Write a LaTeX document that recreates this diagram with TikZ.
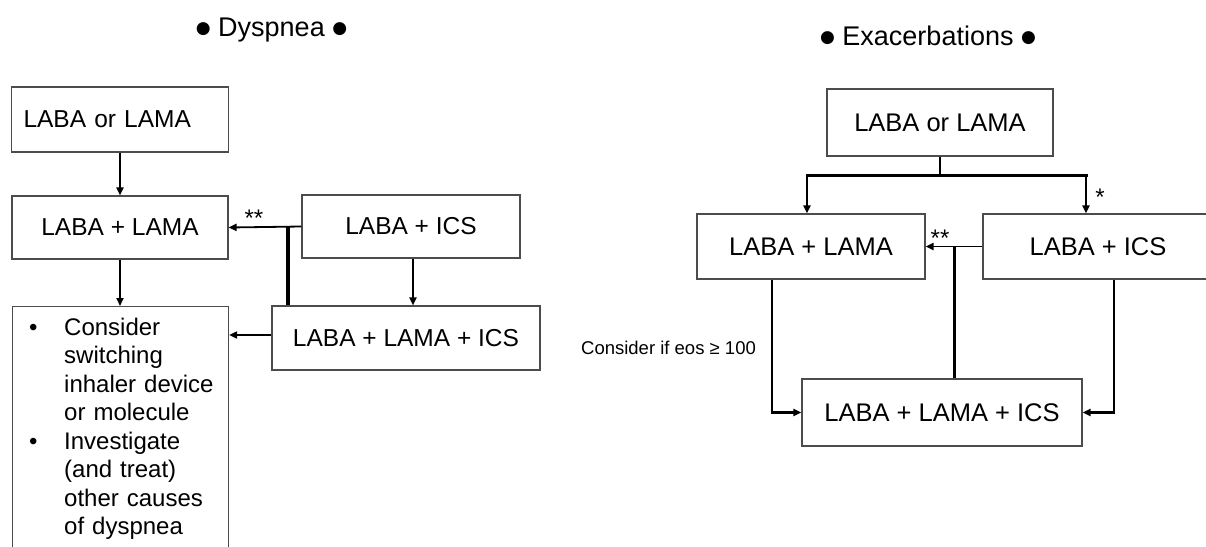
\documentclass[tikz,border=0pt]{standalone}
\usepackage{fontspec}
\setmainfont{Liberation Sans}
\newfontfamily\dvsans{DejaVu Sans}
\newcommand{\tbul}{\raisebox{3pt}{\dvsans\fontsize{17}{20}\selectfont ●}}
\usetikzlibrary{arrows.meta}
\begin{document}
\begin{tikzpicture}[x=1pt,y=-1pt,
  box/.style={draw=black!70, line width=1.1pt, rectangle, inner sep=0pt, font=\fontsize{24.5}{29}\selectfont},
  rbox/.style={box, font=\fontsize{25.5}{30}\selectfont},
  arr/.style={line width=1.8pt, -{Triangle[length=8pt,width=7pt]}},
  arrR/.style={line width=2.4pt, -{Triangle[length=8pt,width=7pt]}},
  heavy/.style={line width=4pt},
  heavyR/.style={line width=3pt},
  ttl/.style={font=\fontsize{27}{30}\selectfont, inner sep=0pt, anchor=base},
  star/.style={font=\fontsize{24}{26}\selectfont, inner sep=0pt, anchor=base},
  btxt/.style={font=\fontsize{24}{28.5}\selectfont, inner sep=0pt, anchor=base west}
]
\useasboundingbox (0,0) rectangle (1206,546);
\clip (0,0) rectangle (1206,546);

% ---------------- left: Dyspnea ----------------
\node[ttl] (t1) at (271.5,36) {\tbul\ Dyspnea \tbul};

\node[box, minimum height=65pt, text width=193pt, inner xsep=12pt, align=left] (box1) at (120,119.5) {LABA or LAMA};
\node[box, minimum width=216pt, minimum height=63pt] (box2) at (120,227.5) {LABA + LAMA};
\node[box, minimum width=218pt, minimum height=63pt] (box3) at (411,226.5) {LABA + ICS};
\node[box, minimum width=268pt, minimum height=64pt] (box4) at (406,338) {LABA + LAMA + ICS};
\node[box, anchor=north west, minimum width=216pt, minimum height=300pt] (box5) at (12,306) {};
\node[btxt] (bul1) at (29,335) {•};
\node[btxt] (bul2) at (29,449) {•};
\node[btxt, text width=165pt, align=left] (box5t) at (64,335)
  {Consider\\ switching\\ inhaler device\\ or molecule\\ Investigate\\ (and treat)\\ other causes\\ of dyspnea};

\draw[arr] (box1.south) -- (box2.north);
\draw[arr] (box3.west) -- (box2.east);
\node[star] (s1) at (254,226) {**};
\coordinate (j1) at (288,226.5);
\draw[heavy] (j1) -- (j1 |- box4.north);
\draw[arr] (box2.south) -- (box5.north -| box2.south);
\draw[arr] ([xshift=2pt]box3.south) -- ([xshift=2pt]box3.south |- box4.north);
\draw[arr] ([yshift=3pt]box4.west) -- ([yshift=3pt]box4.west -| box5.east);

% ---------------- right: Exacerbations ----------------
\node[ttl] (t2) at (928,45) {\tbul\ Exacerbations \tbul};

\node[rbox, minimum width=226pt, minimum height=67pt] (box6) at (940,122.5) {LABA or LAMA};
\node[rbox, minimum width=228pt, minimum height=65pt] (box7) at (811,246.5) {LABA + LAMA};
\node[rbox, minimum width=230pt, minimum height=65pt] (box8) at (1098,246.5) {LABA + ICS};
\node[rbox, minimum width=280pt, minimum height=67pt] (box9) at (942,412.5) {LABA + LAMA + ICS};

\coordinate (bl) at (807,175);
\coordinate (br) at (1086,175);
\draw[line width=2.4pt] (box6.south) -- (box6.south |- bl);
\draw[heavyR, line cap=rect] (bl) -- (br);
\draw[arrR] (bl) -- (bl |- box7.north);
\draw[arrR] (br) -- (br |- box8.north);
\node[star] (s2) at (1100,205) {*};

\draw[arr] (box8.west) -- (box7.east);
\node[star] (s3) at (940,246) {**};
\coordinate (j2) at (954,246.5);
\draw[heavyR] (j2) -- (j2 |- box9.north);

\draw[arrR] ([xshift=-39pt]box7.south) |- (box9.west);
\draw[arrR] ([xshift=16pt]box8.south) |- (box9.east);
\node[font=\fontsize{18.5}{20}\selectfont, inner sep=0pt] (lab) at (668.5,348) {Consider if eos ≥ 100};
\end{tikzpicture}
\end{document}
